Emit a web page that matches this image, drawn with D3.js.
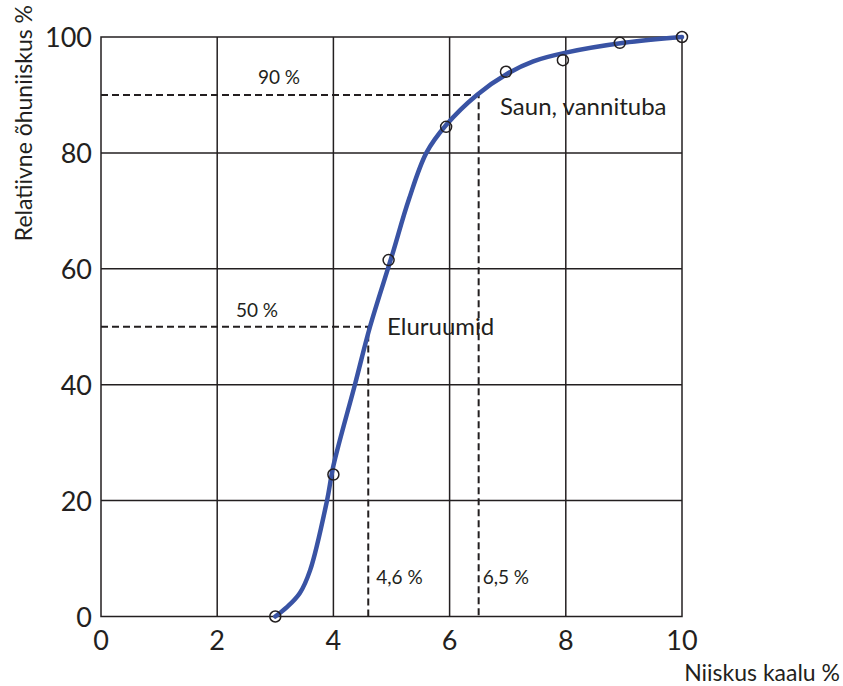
<!DOCTYPE html>
<html>
<head>
<meta charset="utf-8">
<script src="https://cdn.jsdelivr.net/npm/d3@7"></script>
<style>
  body { margin: 0; background: #fff; }
  text { font-family: "Lato", "Liberation Sans", sans-serif; fill: #231f20; }
</style>
</head>
<body>
<script>
var w = 843;
var h = 686;

// measured points (circles)
var pointX = [3, 4, 4.95, 5.94, 6.97, 7.95, 8.93, 10];
var pointY = [0, 24.5, 61.5, 84.5, 94, 96, 99, 100];

// fitted curve
var curveX = [3, 3.2, 3.42, 3.6, 3.89, 4, 4.37, 4.63, 5, 5.3, 5.6, 5.94, 6.47, 7, 7.44, 8, 9, 10];
var curveY = [0, 1.6, 4, 8, 20, 26, 40, 50, 62, 72, 80, 84.8, 90, 93.7, 95.8, 97.3, 99, 100];

var xTicks = [0, 2, 4, 6, 8, 10];
var yTicks = [0, 20, 40, 60, 80, 100];

// reading lines
var guideY = [90, 50];
var guideX = [6.5, 4.6];
var guideLabelY = ["90 %", "50 %"];
var guideLabelX = ["6,5 %", "4,6 %"];

var mLeft = 101, mTop = 37, pw = 581, ph = 579.5;

var x = d3.scaleLinear().domain([0, 10]).range([mLeft, mLeft + pw]);
var y = d3.scaleLinear().domain([0, 100]).range([mTop + ph, mTop]);

var svg = d3.select("body")
    .append("svg")
    .attr("width", w)
    .attr("height", h);

// grid
svg.selectAll("line.gx")
    .data(xTicks.slice(1, -1))
    .enter()
    .append("line")
    .attr("x1", function (d) { return x(d); })
    .attr("x2", function (d) { return x(d); })
    .attr("y1", y(0))
    .attr("y2", y(100))
    .attr("stroke", "#231f20")
    .attr("stroke-width", 1.5);

svg.selectAll("line.gy")
    .data(yTicks.slice(1, -1))
    .enter()
    .append("line")
    .attr("x1", x(0))
    .attr("x2", x(10))
    .attr("y1", function (d) { return y(d); })
    .attr("y2", function (d) { return y(d); })
    .attr("stroke", "#231f20")
    .attr("stroke-width", 1.5);

svg.append("rect")
    .attr("x", x(0))
    .attr("y", y(100))
    .attr("width", x(10) - x(0))
    .attr("height", y(0) - y(100))
    .attr("fill", "none")
    .attr("stroke", "#231f20")
    .attr("stroke-width", 1.5);

// tick labels
svg.selectAll("text.xt")
    .data(xTicks)
    .enter()
    .append("text")
    .attr("x", function (d) { return x(d); })
    .attr("y", 650)
    .attr("text-anchor", "middle")
    .attr("font-size", 27)
    .text(function (d) { return d; });

svg.selectAll("text.yt")
    .data(yTicks)
    .enter()
    .append("text")
    .attr("x", 92)
    .attr("y", function (d) { return y(d) + 10; })
    .attr("text-anchor", "end")
    .attr("font-size", 27)
    .text(function (d) { return d; });

// axis titles
svg.append("text")
    .attr("x", 840)
    .attr("y", 681)
    .attr("text-anchor", "end")
    .attr("font-size", 23)
    .text("Niiskus kaalu %");

svg.append("text")
    .attr("transform", "translate(32,5) rotate(-90)")
    .attr("text-anchor", "end")
    .attr("font-size", 23)
    .text("Relatiivne õhuniiskus %");

// dashed guides
guideY.forEach(function (g, i) {
    svg.append("path")
        .attr("d", "M" + x(0) + "," + y(g) + "H" + x(guideX[i]) + "V" + y(0))
        .attr("fill", "none")
        .attr("stroke", "#231f20")
        .attr("stroke-width", 2)
        .attr("stroke-dasharray", "7,4");
});

svg.append("text").attr("x", 279).attr("y", 84).attr("text-anchor", "middle")
    .attr("font-size", 19).text(guideLabelY[0]);
svg.append("text").attr("x", 257).attr("y", 317).attr("text-anchor", "middle")
    .attr("font-size", 19).text(guideLabelY[1]);
svg.append("text").attr("x", x(guideX[0]) + 4).attr("y", 584)
    .attr("font-size", 19).text(guideLabelX[0]);
svg.append("text").attr("x", x(guideX[1]) + 8).attr("y", 584)
    .attr("font-size", 19).text(guideLabelX[1]);

svg.append("text").attr("x", 500).attr("y", 115)
    .attr("font-size", 24).text("Saun, vannituba");
svg.append("text").attr("x", 387).attr("y", 335)
    .attr("font-size", 24).text("Eluruumid");

// curve
var line = d3.line()
    .x(function (d) { return x(d[0]); })
    .y(function (d) { return y(d[1]); })
    .curve(d3.curveCatmullRom.alpha(0.5));

svg.append("path")
    .datum(d3.zip(curveX, curveY))
    .attr("d", line)
    .attr("fill", "none")
    .attr("stroke", "#3953a4")
    .attr("stroke-width", 4.5)
    .attr("stroke-linecap", "round");

// circles
svg.selectAll("circle")
    .data(d3.zip(pointX, pointY))
    .enter()
    .append("circle")
    .attr("cx", function (d) { return x(d[0]); })
    .attr("cy", function (d) { return y(d[1]); })
    .attr("r", 5.5)
    .attr("fill", "none")
    .attr("stroke", "#231f20")
    .attr("stroke-width", 1.5);
</script>
</body>
</html>
